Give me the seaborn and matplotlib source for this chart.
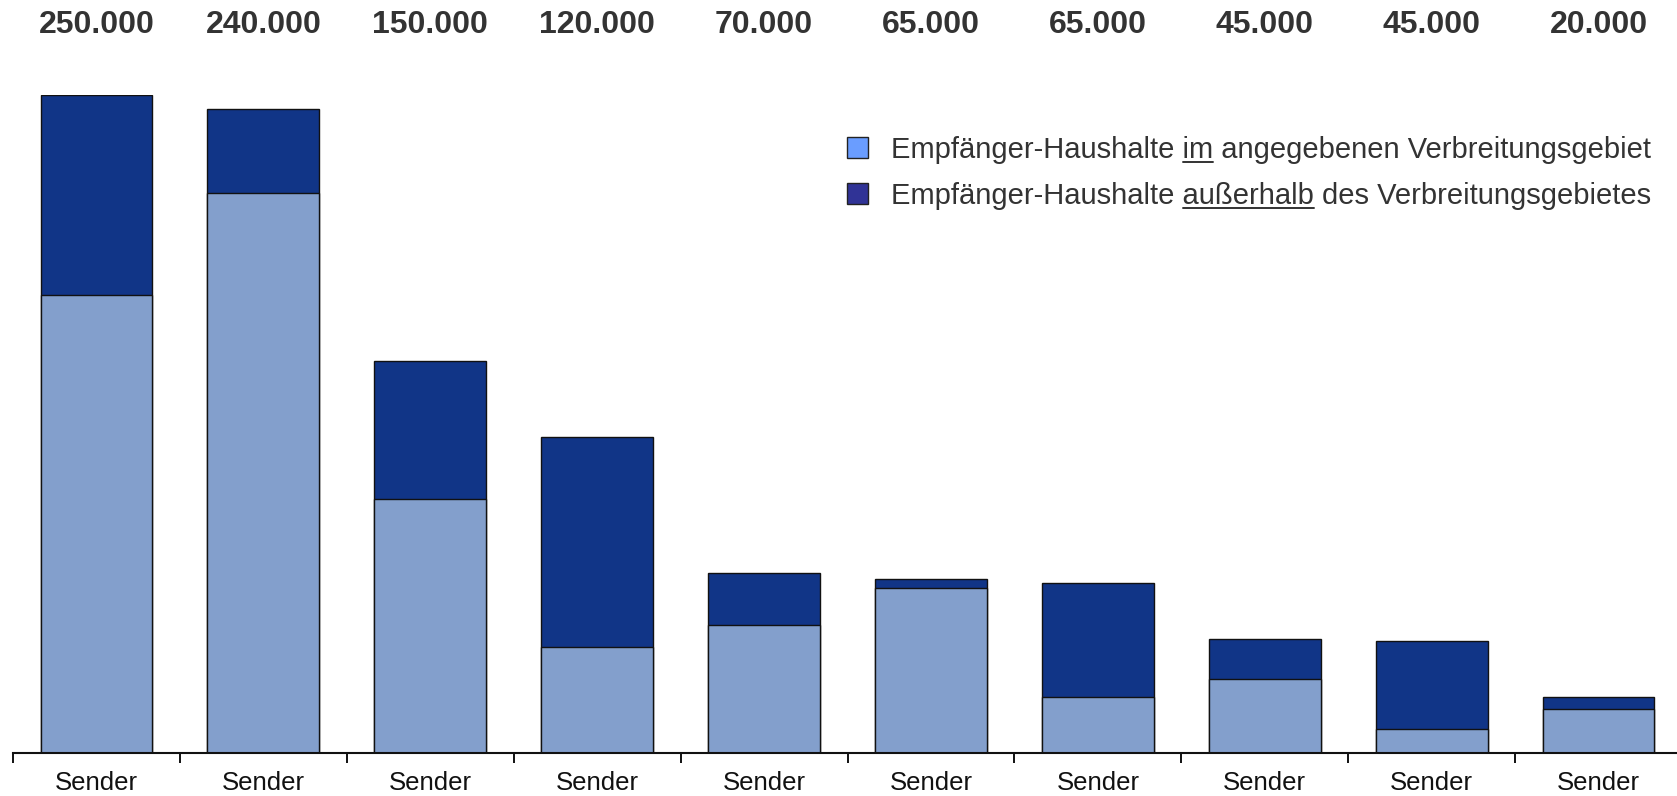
import numpy as np
import pandas as pd
import matplotlib
matplotlib.use("Agg")
import matplotlib.pyplot as plt
import seaborn as sns
from matplotlib.patches import Rectangle
from matplotlib.lines import Line2D
from matplotlib.transforms import blended_transform_factory

# Data (households, in thousands)
senders = ["Sender"] * 10
total_labels = ["250.000", "240.000", "150.000", "120.000", "70.000",
                "65.000", "65.000", "45.000", "45.000", "20.000"]
inside = [174.0, 212.9, 96.4, 40.2, 48.4, 62.7, 21.1, 27.9, 8.9, 16.5]
outside = [76.0, 31.8, 52.5, 79.8, 19.8, 3.3, 43.4, 15.2, 33.4, 4.6]

legend_parts = [
    ("Empfänger-Haushalte ", "im", " angegebenen Verbreitungsgebiet"),
    ("Empfänger-Haushalte ", "außerhalb", " des Verbreitungsgebietes"),
]

bar_light = "#839fcc"
bar_dark = "#113587"
legend_colors = ["#6a9dff", "#303396"]
text_col = "#333333"

df = pd.DataFrame({"pos": range(len(senders)), "inside": inside})
df["total"] = df["inside"] + np.array(outside)

sns.set_style("white")
plt.rcParams["font.family"] = ["Liberation Sans", "DejaVu Sans"]

W, H = 1677, 796
fig = plt.figure(figsize=(W / 100, H / 100), dpi=100)
ax = fig.add_axes([13 / W, (H - 752.7) / H, (W - 13) / W, (752.7 - 95) / H])

sns.barplot(data=df, x="pos", y="total", color=bar_dark, saturation=1,
            width=0.67, edgecolor="#111111", linewidth=1, ax=ax)
sns.barplot(data=df, x="pos", y="inside", color=bar_light, saturation=1,
            width=0.67, edgecolor="#111111", linewidth=1, ax=ax)

ax.set_ylim(0, 250)
ax.set_xlim(-0.5, 9.47)
ax.set_xlabel("")
ax.set_ylabel("")
ax.set_yticks([])
for s in ["left", "right", "top"]:
    ax.spines[s].set_visible(False)
ax.spines["bottom"].set_linewidth(1.5)
ax.spines["bottom"].set_color("#111111")

ax.set_xticks(range(len(senders)), senders)
ax.set_xticks(np.arange(-0.5, len(senders) - 0.5), minor=True)
ax.tick_params(axis="x", which="major", length=0, pad=13, labelsize=18.5,
               labelcolor="#111111")
ax.tick_params(axis="x", which="minor", length=7, width=1.4, color="#111111",
               direction="out", bottom=True)

# totals above the chart
tr = blended_transform_factory(ax.transData, fig.transFigure)
for i, lab in enumerate(total_labels):
    ax.text(i, 1 - 25 / H, lab, transform=tr, ha="center", va="center",
            fontsize=23, fontweight="bold", color=text_col)

# legend, drawn by hand so parts can be underlined
fig.canvas.draw()
renderer = fig.canvas.get_renderer()


def text_width(s, size):
    t = fig.text(0, 0, s, fontsize=size)
    w = t.get_window_extent(renderer).width
    t.remove()
    return w


leg_size = 21
text_x = 891
rows_y = [147, 193]
for (pre, word, post), col, yc in zip(legend_parts, legend_colors, rows_y):
    fig.patches.append(Rectangle((847 / W, (H - yc - 10.5) / H), 21 / W, 21 / H,
                                 transform=fig.transFigure, facecolor=col,
                                 edgecolor="#222222", linewidth=1))
    base = yc + 11
    fig.text(text_x / W, (H - base) / H, pre + word + post, fontsize=leg_size,
             color=text_col, ha="left", va="baseline")
    x1 = text_x + text_width(pre + word, leg_size)
    x0 = x1 - text_width(word, leg_size)
    uy = (H - base - 4) / H
    fig.lines.append(Line2D([x0 / W, x1 / W], [uy, uy], transform=fig.transFigure,
                            color=text_col, linewidth=1.4))

fig.savefig("out.png", dpi=100)
